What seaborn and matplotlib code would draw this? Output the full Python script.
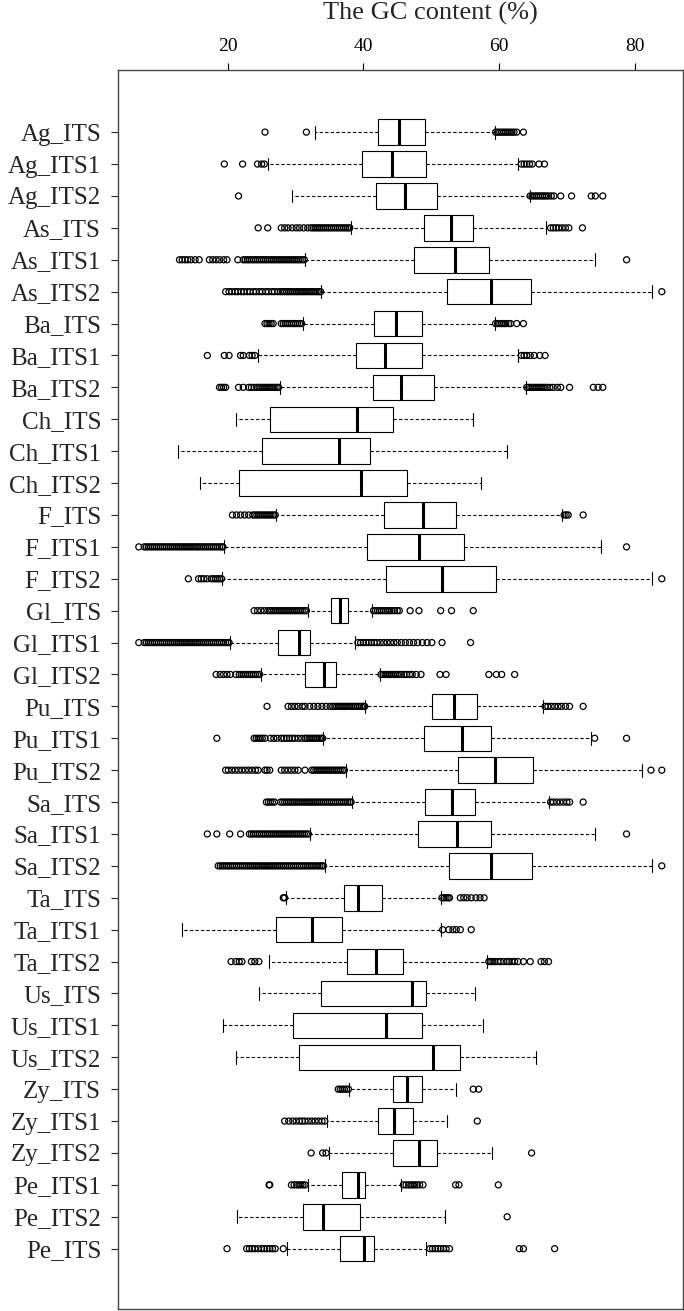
import numpy as np
import pandas as pd
import matplotlib
matplotlib.use("Agg")
import matplotlib.pyplot as plt
import seaborn as sns

# ---------------------------
# data (GC content, %)
# ---------------------------
labels = ["Ag_ITS", "Ag_ITS1", "Ag_ITS2", "As_ITS", "As_ITS1", "As_ITS2",
          "Ba_ITS", "Ba_ITS1", "Ba_ITS2", "Ch_ITS", "Ch_ITS1", "Ch_ITS2",
          "F_ITS", "F_ITS1", "F_ITS2", "Gl_ITS", "Gl_ITS1", "Gl_ITS2",
          "Pu_ITS", "Pu_ITS1", "Pu_ITS2", "Sa_ITS", "Sa_ITS1", "Sa_ITS2",
          "Ta_ITS", "Ta_ITS1", "Ta_ITS2", "Us_ITS", "Us_ITS1", "Us_ITS2",
          "Zy_ITS", "Zy_ITS1", "Zy_ITS2", "Pe_ITS1", "Pe_ITS2", "Pe_ITS"]

whis_lo = [32.8, 25.9, 29.5, 38.2, 31.4, 33.8, 31.1, 24.5, 27.7, 21.2, 12.7, 15.9,
           27.1, 19.4, 19.2, 31.8, 20.4, 24.9, 40.3, 34.1, 37.4, 38.4, 32.1, 34.3,
           28.6, 13.2, 26.1, 24.6, 19.3, 21.3, 37.9, 34.7, 35.0, 31.8, 21.4, 28.7]
q1 = [42.1, 39.8, 41.8, 48.9, 47.5, 52.3, 41.6, 38.9, 41.4, 26.3, 25.0, 21.7,
      43.0, 40.5, 43.4, 35.3, 27.4, 31.4, 50.1, 48.9, 54.0, 49.1, 48.0, 52.7,
      37.1, 27.1, 37.6, 33.7, 29.7, 30.5, 44.3, 42.1, 44.4, 36.8, 31.1, 36.5]
median = [45.3, 44.2, 46.2, 52.9, 53.5, 58.8, 44.8, 43.2, 45.6, 39.0, 36.4, 39.7,
          48.8, 48.2, 51.6, 36.6, 30.5, 34.2, 53.4, 54.6, 59.4, 53.1, 53.8, 58.8,
          39.2, 32.5, 41.9, 47.1, 43.4, 50.2, 46.5, 44.5, 48.2, 39.2, 34.1, 40.1]
q3 = [49.1, 49.2, 50.9, 56.2, 58.5, 64.7, 48.7, 48.7, 50.4, 44.3, 41.0, 46.4,
      53.6, 54.8, 59.6, 37.7, 32.2, 35.9, 56.7, 58.8, 65.0, 56.4, 58.8, 64.9,
      42.8, 36.9, 45.9, 49.2, 48.7, 54.3, 48.6, 47.3, 50.8, 40.3, 39.5, 41.6]
whis_hi = [59.4, 62.8, 64.5, 67.0, 74.2, 82.5, 59.4, 62.8, 64.0, 56.2, 61.2, 57.3,
           69.3, 75.0, 82.5, 41.3, 38.8, 42.4, 66.5, 73.6, 81.1, 67.3, 74.2, 82.5,
           51.4, 51.4, 58.3, 56.5, 57.6, 65.4, 53.6, 52.3, 59.0, 45.6, 52.0, 49.3]

outliers = [
    # Ag_ITS
    [25.5, 31.6, 59.5, 59.8, 60.1, 60.4, 60.7, 61.0, 61.3, 61.6, 61.9, 62.2, 62.6,
     63.6],
    # Ag_ITS1
    [19.5, 22.2, 24.4, 25.0, 25.4, 63.3, 63.7, 64.1, 64.5, 64.9, 65.9, 66.7],
    # Ag_ITS2
    [21.6, 64.6, 64.9, 65.2, 65.5, 65.8, 66.1, 66.4, 66.7, 67.0, 67.3, 67.7, 68.1,
     69.1, 70.7, 73.6, 74.2, 75.3],
    # As_ITS
    [24.5, 25.9, 27.9, 28.4, 28.9, 29.5, 30.1, 30.6, 31.2, 31.8, 32.3, 32.6, 32.9,
     33.2, 33.5, 33.8, 34.1, 34.4, 34.7, 35.0, 35.3, 35.6, 35.9, 36.2, 36.5, 36.8,
     37.1, 37.4, 37.7, 38.0, 67.6, 68.0, 68.4, 68.8, 69.3, 69.8, 70.3, 72.3],
    # As_ITS1
    [12.9, 13.3, 13.7, 14.1, 14.6, 15.2, 15.8, 17.3, 17.8, 18.3, 18.8, 19.4, 19.9,
     21.5, 22.3, 22.6, 22.9, 23.2, 23.5, 23.8, 24.1, 24.4, 24.7, 25.0, 25.3, 25.6,
     25.9, 26.2, 26.5, 26.8, 27.1, 27.4, 27.7, 28.0, 28.3, 28.6, 28.9, 29.2, 29.5,
     29.8, 30.1, 30.4, 30.7, 31.0, 31.3, 78.8],
    # As_ITS2
    [19.7, 20.2, 20.6, 21.1, 21.5, 22.0, 22.4, 22.9, 23.3, 23.8, 24.2, 24.7, 25.1,
     25.6, 26.0, 26.5, 26.9, 27.4, 27.8, 28.1, 28.4, 28.7, 29.0, 29.3, 29.6, 29.9,
     30.2, 30.5, 30.8, 31.1, 31.4, 31.7, 32.0, 32.3, 32.6, 32.9, 33.2, 33.5, 33.7,
     84.0],
    # Ba_ITS
    [25.5, 25.8, 26.1, 26.4, 26.7, 27.9, 28.2, 28.5, 28.8, 29.1, 29.4, 29.7, 30.0,
     30.3, 30.6, 30.9, 59.5, 59.8, 60.1, 60.4, 60.7, 61.0, 61.4, 61.7, 62.6, 63.6],
    # Ba_ITS1
    [17.0, 19.5, 20.2, 21.9, 22.3, 23.2, 23.6, 24.0, 63.3, 63.7, 64.1, 64.6, 65.2,
     66.0, 66.8],
    # Ba_ITS2
    [18.8, 19.1, 19.4, 19.7, 21.6, 22.3, 23.1, 23.5, 23.9, 24.3, 24.6, 24.9, 25.2,
     25.5, 25.8, 26.1, 26.4, 26.7, 27.0, 27.3, 27.5, 64.1, 64.4, 64.7, 65.0, 65.3,
     65.6, 65.9, 66.2, 66.5, 66.8, 67.1, 67.5, 68.0, 68.6, 69.1, 70.4, 73.9, 74.6,
     75.3],
    # Ch_ITS, Ch_ITS1, Ch_ITS2
    [], [], [],
    # F_ITS
    [20.7, 21.3, 21.9, 22.5, 23.1, 23.7, 24.0, 24.3, 24.6, 24.9, 25.2, 25.5, 25.8,
     26.1, 26.4, 26.7, 27.0, 69.6, 69.9, 70.2, 72.4],
    # F_ITS1
    [6.9, 7.7, 8.0, 8.3, 8.6, 8.9, 9.2, 9.5, 9.8, 10.1, 10.4, 10.7, 11.0, 11.3,
     11.6, 11.9, 12.2, 12.5, 12.8, 13.1, 13.4, 13.7, 14.0, 14.3, 14.6, 14.9, 15.2,
     15.5, 15.8, 16.1, 16.4, 16.7, 17.0, 17.3, 17.6, 17.9, 18.2, 18.5, 18.8, 19.1,
     19.3, 78.8],
    # F_ITS2
    [14.2, 15.7, 16.1, 16.5, 17.0, 17.6, 17.9, 18.2, 18.5, 18.8, 19.1, 84.0],
    # Gl_ITS
    [23.9, 24.4, 24.9, 25.4, 25.9, 26.2, 26.5, 26.8, 27.1, 27.4, 27.7, 28.0, 28.3,
     28.6, 28.9, 29.2, 29.5, 29.8, 30.1, 30.4, 30.7, 31.0, 31.3, 31.6, 41.5, 41.8,
     42.1, 42.4, 42.7, 43.0, 43.3, 43.6, 43.9, 44.2, 44.6, 45.0, 45.3, 46.9, 48.2,
     51.4, 53.0, 56.2],
    # Gl_ITS1
    [6.9, 7.7, 8.0, 8.3, 8.6, 8.9, 9.2, 9.5, 9.8, 10.1, 10.4, 10.7, 11.0, 11.3,
     11.6, 11.9, 12.2, 12.5, 12.8, 13.1, 13.4, 13.7, 14.0, 14.3, 14.6, 14.9, 15.2,
     15.5, 15.8, 16.1, 16.4, 16.7, 17.0, 17.3, 17.6, 17.9, 18.2, 18.5, 18.8, 19.1,
     19.4, 19.7, 20.0, 20.2, 39.2, 39.6, 40.0, 40.4, 40.8, 41.2, 41.6, 42.0, 42.5,
     43.0, 43.5, 44.0, 44.5, 45.0, 45.6, 46.2, 46.8, 47.4, 48.0, 48.7, 49.4, 50.1,
     51.6, 55.8],
    # Gl_ITS2
    [18.3, 18.9, 19.4, 19.9, 20.4, 21.2, 21.7, 22.0, 22.3, 22.6, 22.9, 23.2, 23.5,
     23.8, 24.1, 24.4, 24.7, 42.6, 42.9, 43.2, 43.5, 43.8, 44.1, 44.4, 44.7, 45.0,
     45.3, 45.6, 46.0, 46.4, 46.8, 47.2, 47.8, 48.5, 51.3, 52.2, 58.5, 59.6, 60.4,
     62.3],
    # Pu_ITS
    [25.8, 28.9, 29.4, 29.9, 30.4, 31.0, 31.4, 32.1, 32.7, 33.3, 33.9, 34.5, 35.1,
     35.5, 35.8, 36.1, 36.4, 36.7, 37.0, 37.3, 37.6, 37.9, 38.2, 38.5, 38.8, 39.1,
     39.4, 39.7, 40.0, 40.2, 66.8, 67.2, 67.7, 68.2, 68.7, 69.2, 69.8, 70.4, 72.4],
    # Pu_ITS1
    [18.4, 23.9, 24.2, 24.5, 24.8, 25.1, 25.5, 26.3, 26.8, 27.3, 27.9, 28.3, 28.7,
     29.1, 29.5, 29.9, 30.4, 30.9, 31.4, 31.7, 32.0, 32.3, 32.6, 32.9, 33.2, 33.5,
     33.8, 34.0, 74.1, 78.8],
    # Pu_ITS2
    [19.7, 20.1, 20.6, 21.1, 21.6, 22.1, 22.6, 23.1, 23.6, 24.1, 24.5, 25.5, 25.8,
     26.2, 27.9, 28.4, 28.9, 29.4, 29.9, 30.4, 31.4, 32.4, 32.7, 33.0, 33.3, 33.6,
     33.9, 34.2, 34.5, 34.8, 35.1, 35.4, 35.7, 36.0, 36.3, 36.6, 36.9, 37.2, 82.4,
     84.0],
    # Sa_ITS
    [25.7, 26.0, 26.3, 26.6, 26.9, 27.8, 28.1, 28.4, 28.7, 29.0, 29.3, 29.6, 29.9,
     30.2, 30.5, 30.8, 31.1, 31.4, 31.7, 32.0, 32.3, 32.6, 32.9, 33.2, 33.5, 33.8,
     34.1, 34.4, 34.7, 35.0, 35.3, 35.6, 35.9, 36.2, 36.5, 36.8, 37.1, 37.4, 37.7,
     38.0, 38.2, 67.6, 68.0, 68.5, 69.0, 69.5, 70.0, 70.4, 72.4],
    # Sa_ITS1
    [17.0, 18.4, 20.3, 21.9, 23.2, 23.5, 23.8, 24.1, 24.4, 24.7, 25.0, 25.3, 25.6,
     25.9, 26.2, 26.5, 26.8, 27.1, 27.4, 27.7, 28.0, 28.3, 28.6, 28.9, 29.2, 29.5,
     29.8, 30.1, 30.4, 30.7, 31.0, 31.3, 31.6, 31.9, 78.8],
    # Sa_ITS2
    [18.6, 18.9, 19.2, 19.5, 19.8, 20.1, 20.4, 20.7, 21.0, 21.3, 21.6, 21.9, 22.2,
     22.5, 22.8, 23.1, 23.4, 23.7, 24.0, 24.3, 24.6, 24.9, 25.2, 25.5, 25.8, 26.1,
     26.4, 26.7, 27.0, 27.3, 27.6, 27.9, 28.2, 28.5, 28.8, 29.1, 29.4, 29.7, 30.0,
     30.3, 30.6, 30.9, 31.2, 31.5, 31.8, 32.1, 32.4, 32.7, 33.0, 33.3, 33.6, 33.9,
     34.1, 84.0],
    # Ta_ITS
    [28.2, 28.4, 51.6, 51.9, 52.2, 52.5, 52.7, 54.3, 54.8, 55.3, 55.9, 56.6, 57.2,
     57.8],
    # Ta_ITS1
    [51.7, 52.6, 53.2, 53.7, 54.3, 55.9],
    # Ta_ITS2
    [20.5, 21.2, 21.7, 22.1, 23.5, 24.0, 24.6, 58.5, 58.8, 59.1, 59.4, 59.8, 60.2,
     60.7, 61.2, 61.5, 61.9, 62.3, 62.8, 63.6, 64.6, 66.2, 66.7, 67.3],
    # Us_ITS, Us_ITS1, Us_ITS2
    [], [], [],
    # Zy_ITS
    [36.3, 36.6, 36.9, 37.2, 37.5, 37.8, 56.2, 57.0],
    # Zy_ITS1
    [28.4, 29.0, 29.6, 30.1, 30.6, 31.0, 31.4, 31.9, 32.4, 32.9, 33.4, 33.9, 34.3,
     56.8],
    # Zy_ITS2
    [32.3, 34.0, 34.5, 64.8],
    # Pe_ITS1
    [26.1, 26.2, 29.4, 29.8, 30.2, 30.5, 30.8, 31.1, 31.4, 45.9, 46.3, 46.7, 47.0,
     47.3, 47.6, 47.9, 48.3, 48.8, 53.6, 54.1, 59.9],
    # Pe_ITS2
    [61.2],
    # Pe_ITS
    [19.9, 22.8, 23.2, 23.6, 24.0, 24.5, 25.0, 25.4, 25.8, 26.2, 26.6, 27.0, 28.2,
     49.8, 50.2, 50.6, 51.0, 51.4, 51.8, 52.2, 52.7, 63.0, 63.6, 68.2],
]

# ---------------------------
# style
# ---------------------------
sns.set_style("white")
plt.rcParams["font.family"] = ["Liberation Serif", "DejaVu Serif"]

fig = plt.figure(figsize=(6.84, 13.11), dpi=100)
ax = fig.add_axes([0.1722, 0.0013, 0.8261, 0.9451])

pos = np.arange(len(labels))

stats = []
for i, lab in enumerate(labels):
    stats.append({"label": lab, "whislo": whis_lo[i], "q1": q1[i], "med": median[i],
                  "q3": q3[i], "whishi": whis_hi[i], "fliers": []})

ax.bxp(stats, positions=pos, widths=0.8, capwidths=0.4,
       orientation="horizontal", showfliers=False, patch_artist=True,
       boxprops=dict(facecolor="white", edgecolor="black", linewidth=0.8),
       whiskerprops=dict(color="black", linewidth=0.8, linestyle=(0, (3, 2))),
       capprops=dict(color="black", linewidth=0.8),
       medianprops=dict(color="black", linewidth=2.2))

# outlier points
fl = pd.DataFrame({
    "gc": [v for vals in outliers for v in vals],
    "pos": [i for i, vals in enumerate(outliers) for _ in vals],
})
sns.scatterplot(data=fl, x="gc", y="pos", ax=ax, marker="o", s=19,
                facecolor="none", edgecolor="black", linewidth=0.9,
                legend=False, zorder=3)

ax.set_xlim(3.8, 87.1)
ax.set_ylim(len(labels) - 1 + 1.9, -1.94)
ax.set_xlabel("")
ax.set_ylabel("")

ax.xaxis.tick_top()
ax.set_xticks([20, 40, 60, 80])
ax.tick_params(axis="x", which="major", direction="out", length=5, width=0.8,
               pad=6, labelsize=14, colors="black", top=True, bottom=False)
ax.set_yticks(pos)
ax.set_yticklabels(labels)
ax.tick_params(axis="y", which="major", direction="out", length=5, width=0.8,
               pad=7, labelsize=18, left=True)

for s in ax.spines.values():
    s.set_visible(True)
    s.set_color("#444444")
    s.set_linewidth(1.0)

fig.text(430 / 684, 1 - 13 / 1311, "The GC content (%)", ha="center", va="center",
         fontsize=19)

fig.savefig("out.png", dpi=100)
